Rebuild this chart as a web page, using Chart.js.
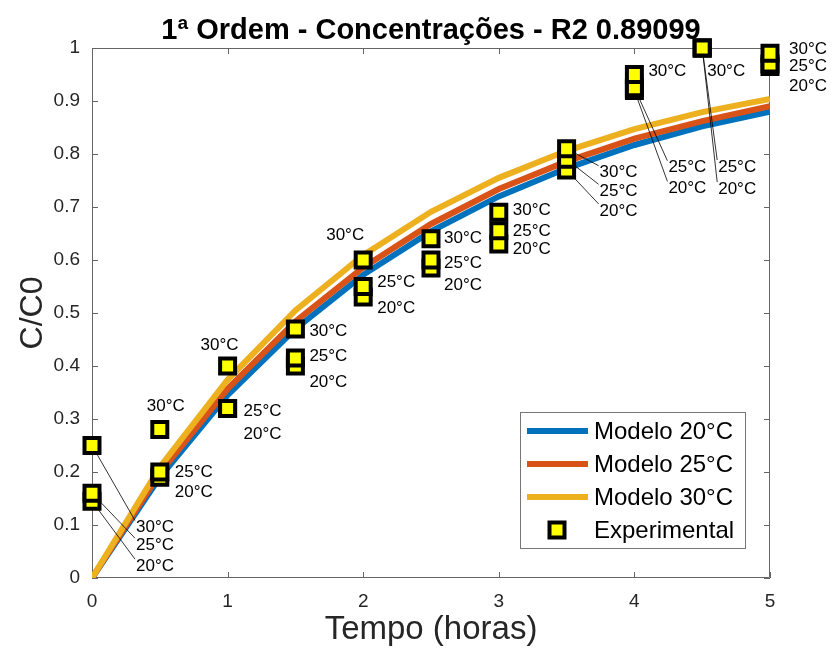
<!DOCTYPE html>
<html>
<head>
<meta charset="utf-8">
<script src="https://cdn.jsdelivr.net/npm/chart.js@4.4.0/dist/chart.umd.min.js"></script>
<style>
  html, body { margin: 0; padding: 0; background: #fff; }
  #wrap { width: 833px; height: 653px; }
</style>
</head>
<body>
<div id="wrap"><canvas id="grafico" width="833" height="653"></canvas></div>
<script>
// Dados
const tempos = [0, 0.5, 1, 1.5, 2, 2.5, 3, 3.5, 4, 4.5, 5];

const modelo20 = [0, 0.19, 0.345, 0.47, 0.572, 0.654, 0.72, 0.773, 0.817, 0.852, 0.88];
const modelo25 = [0, 0.198, 0.357, 0.484, 0.586, 0.668, 0.734, 0.786, 0.829, 0.862, 0.89];
const modelo30 = [0, 0.209, 0.374, 0.505, 0.609, 0.691, 0.755, 0.806, 0.847, 0.879, 0.904];

const exp20 = [0.145, 0.19, 0.32, 0.40, 0.53, 0.585, 0.63, 0.77, 0.92, 1.0, 0.965];
const exp25 = [0.16, 0.20, 0.32, 0.415, 0.55, 0.60, 0.655, 0.79, 0.925, 1.0, 0.97];
const exp30 = [0.25, 0.28, 0.40, 0.47, 0.60, 0.64, 0.69, 0.81, 0.95, 1.0, 0.99];

const temperaturas = ['20°C', '25°C', '30°C'];
const legendaTextos = ['Modelo 20°C', 'Modelo 25°C', 'Modelo 30°C', 'Experimental'];
const xTicks = ['0', '1', '2', '3', '4', '5'];
const yTicks = ['0', '0.1', '0.2', '0.3', '0.4', '0.5', '0.6', '0.7', '0.8', '0.9', '1'];
const titulo = '1ª Ordem - Concentrações - R2 0.89099';

// posição dos rótulos: [série (0=20,1=25,2=30), índice do tempo, dx, dy, linha guia]
const rotulos = [
    [2, 0, 44, 82, true], [1, 0, 44, 52, true], [0, 0, 44, 65, true],
    [2, 1, -13, -23, false], [1, 1, 15, 0, false], [0, 1, 15, 15, false],
    [2, 2, -27, -21, false], [1, 2, 16, 3, false], [0, 2, 16, 26, false],
    [2, 3, 14, 2, false], [1, 3, 14, -2, false], [0, 3, 14, 16, false],
    [2, 4, -37, -25, false], [1, 4, 14, -4, false], [0, 4, 14, 11, false],
    [2, 5, 13, 0, false], [1, 5, 13, 3, false], [0, 5, 13, 17, false],
    [2, 6, 14, -2, false], [1, 6, 14, 0, false], [0, 6, 14, 5, false],
    [2, 7, 33, 24, true], [1, 7, 33, 32, true], [0, 7, 33, 41, true],
    [2, 8, 14, -3, false], [1, 8, 34, 80, true], [0, 8, 34, 98, true],
    [2, 9, 5, 23, false], [1, 9, 16, 119, true], [0, 9, 16, 141, true],
    [2, 10, 19, -4, false], [1, 10, 19, 2, false], [0, 10, 19, 20, false]
];

const cores = ['#0072BD', '#D95319', '#EDB120'];
const fonte = '"Liberation Sans", Arial, sans-serif';

function pontos(valores) {
    return tempos.map((t, i) => ({ x: t, y: valores[i] }));
}

function serieModelo(label, valores, cor, ordem) {
    return {
        label: label,
        data: pontos(valores),
        borderColor: cor,
        backgroundColor: cor,
        borderWidth: 6,
        pointRadius: 0,
        tension: 0,
        order: ordem
    };
}

function serieExp(label, valores, ordem) {
    return {
        label: label,
        data: pontos(valores),
        showLine: false,
        pointStyle: 'rect',
        pointRadius: 10.6,
        pointHoverRadius: 10.6,
        pointBackgroundColor: '#FFFF00',
        pointBorderColor: '#000',
        pointBorderWidth: 4,
        clip: false,
        order: ordem
    };
}

const expSeries = [exp20, exp25, exp30];

const anotacoes = {
    id: 'anotacoes',
    beforeDatasetsDraw(chart) {
        const ctx = chart.ctx;
        const a = chart.chartArea;
        const xs = chart.scales.x, ys = chart.scales.y;
        ctx.save();
        ctx.strokeStyle = '#666';
        ctx.lineWidth = 1;
        ctx.beginPath();
        ctx.rect(a.left + 0.5, a.top + 0.5, a.right - a.left - 1, a.bottom - a.top - 1);
        // marcas para dentro
        xs.ticks.forEach(t => {
            const px = Math.round(xs.getPixelForValue(t.value)) + 0.5;
            ctx.moveTo(px, a.bottom); ctx.lineTo(px, a.bottom - 6);
            ctx.moveTo(px, a.top); ctx.lineTo(px, a.top + 6);
        });
        ys.ticks.forEach(t => {
            const py = Math.round(ys.getPixelForValue(t.value)) + 0.5;
            ctx.moveTo(a.left, py); ctx.lineTo(a.left + 6, py);
            ctx.moveTo(a.right, py); ctx.lineTo(a.right - 6, py);
        });
        ctx.stroke();
        ctx.restore();
    },
    afterDatasetDraw(chart, args) {
        if (args.index !== 2) return;
        const ctx = chart.ctx;
        const xs = chart.scales.x, ys = chart.scales.y;
        ctx.save();
        ctx.strokeStyle = '#000';
        ctx.lineWidth = 0.8;
        rotulos.forEach(r => {
            if (!r[4]) return;
            const px = xs.getPixelForValue(tempos[r[1]]);
            const py = ys.getPixelForValue(expSeries[r[0]][r[1]]);
            ctx.beginPath();
            ctx.moveTo(px, py);
            ctx.lineTo(px + r[2] - 1, py + r[3] - 7);
            ctx.stroke();
        });
        ctx.restore();
    },
    afterDatasetsDraw(chart) {
        const ctx = chart.ctx;
        const xs = chart.scales.x, ys = chart.scales.y;
        ctx.save();
        ctx.fillStyle = '#000';
        ctx.font = '17px ' + fonte;
        ctx.textAlign = 'left';
        ctx.textBaseline = 'middle';
        rotulos.forEach(r => {
            const px = xs.getPixelForValue(tempos[r[1]]);
            const py = ys.getPixelForValue(expSeries[r[0]][r[1]]);
            ctx.fillText(temperaturas[r[0]], px + r[2], py + r[3]);
        });
        ctx.restore();
    },
    afterDraw(chart) {
        const ctx = chart.ctx;
        const a = chart.chartArea;
        ctx.save();
        // título
        ctx.fillStyle = '#000';
        ctx.font = 'bold 29px ' + fonte;
        ctx.textAlign = 'center';
        ctx.textBaseline = 'alphabetic';
        ctx.fillText(titulo, (a.left + a.right) / 2, 39);

        // legenda
        const bx = a.right - 250, by = a.bottom - 166, bw = 225, bh = 136;
        ctx.fillStyle = '#fff';
        ctx.fillRect(bx, by, bw, bh);
        ctx.strokeStyle = '#777';
        ctx.lineWidth = 1;
        ctx.strokeRect(bx + 0.5, by + 0.5, bw, bh);
        ctx.font = '24px ' + fonte;
        ctx.textAlign = 'left';
        ctx.textBaseline = 'middle';
        legendaTextos.forEach((txt, i) => {
            const ly = by + 19 + i * 33;
            if (i < 3) {
                ctx.strokeStyle = cores[i];
                ctx.lineWidth = 6;
                ctx.beginPath();
                ctx.moveTo(bx + 7, ly);
                ctx.lineTo(bx + 68, ly);
                ctx.stroke();
            } else {
                ctx.fillStyle = '#FFFF00';
                ctx.strokeStyle = '#000';
                ctx.lineWidth = 4;
                ctx.fillRect(bx + 29.5, ly - 7.5, 15, 15);
                ctx.strokeRect(bx + 29.5, ly - 7.5, 15, 15);
            }
            ctx.fillStyle = '#000';
            ctx.fillText(txt, bx + 74, ly + 1);
        });
        ctx.restore();
    }
};

new Chart(document.getElementById('grafico'), {
    type: 'line',
    data: {
        datasets: [
            serieModelo(legendaTextos[0], modelo20, cores[0], 7),
            serieModelo(legendaTextos[1], modelo25, cores[1], 6),
            serieModelo(legendaTextos[2], modelo30, cores[2], 5),
            serieExp('Exp 20°C', exp20, 3),
            serieExp('Exp 25°C', exp25, 2),
            serieExp('Exp 30°C', exp30, 1)
        ]
    },
    plugins: [anotacoes],
    options: {
        responsive: false,
        animation: false,
        layout: { padding: { top: 48, right: 63, left: 0, bottom: 0 } },
        plugins: {
            legend: { display: false },
            tooltip: { enabled: false },
            title: { display: false }
        },
        scales: {
            x: {
                type: 'linear',
                min: 0,
                max: 5,
                grid: { display: false, drawTicks: false },
                border: { display: false },
                ticks: {
                    stepSize: 1,
                    autoSkip: false,
                    maxRotation: 0,
                    padding: 12,
                    color: '#262626',
                    font: { family: fonte, size: 19 },
                    callback: (v, i) => xTicks[i]
                },
                title: {
                    display: true,
                    text: 'Tempo (horas)',
                    color: '#262626',
                    font: { family: fonte, size: 33 },
                    padding: { top: 0, bottom: 3 }
                },
                afterFit(scale) { scale.height = 75; }
            },
            y: {
                min: 0,
                max: 1,
                grid: { display: false, drawTicks: false },
                border: { display: false },
                ticks: {
                    stepSize: 0.1,
                    autoSkip: false,
                    padding: 12,
                    color: '#262626',
                    font: { family: fonte, size: 19 },
                    callback: (v, i) => yTicks[i]
                },
                title: {
                    display: true,
                    text: 'C/C0',
                    color: '#262626',
                    font: { family: fonte, size: 32 },
                    padding: { top: 14, bottom: 0 }
                },
                afterFit(scale) { scale.width = 92; }
            }
        }
    }
});
</script>
</body>
</html>
